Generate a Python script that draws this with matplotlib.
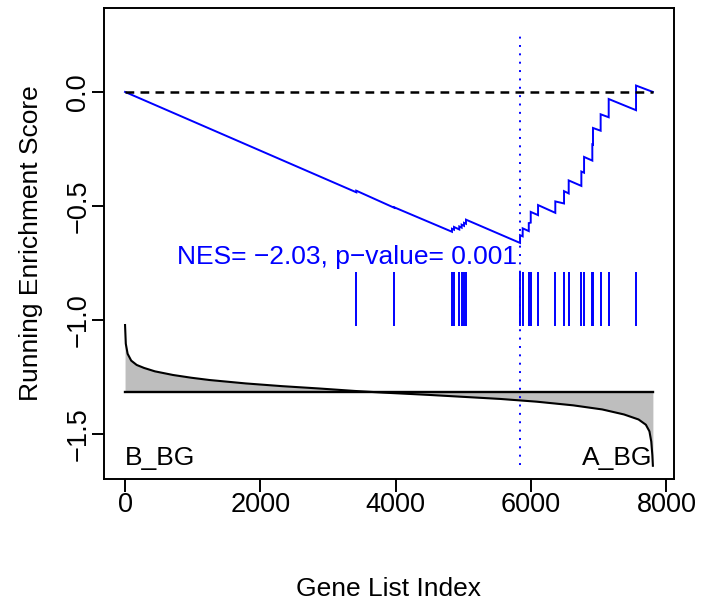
import matplotlib
matplotlib.use("Agg")
import matplotlib.pyplot as plt
import numpy as np

plt.rcParams['font.family'] = ['Liberation Sans', 'DejaVu Sans']

# ---- data ----
n_genes = 7800
hit_idx = [3417, 3979, 4831, 4861, 4939, 4974, 5009, 5038,
           5837, 5876, 5966, 5995, 6103, 6358, 6487, 6556,
           6743, 6783, 6905, 6915, 7028, 7147, 7551]
es_before = [-0.440, -0.508, -0.613, -0.604, -0.603, -0.595, -0.587, -0.578,
             -0.662, -0.633, -0.610, -0.573, -0.540, -0.530, -0.489, -0.445,
             -0.412, -0.354, -0.301, -0.231, -0.170, -0.111, -0.080]
es_after = [-0.433, -0.506, -0.600, -0.592, -0.590, -0.582, -0.574, -0.560,
            -0.628, -0.598, -0.575, -0.526, -0.496, -0.480, -0.435, -0.388,
            -0.349, -0.285, -0.230, -0.158, -0.098, -0.031, 0.028]

# ranked metric curve (drawn in ES-axis units)
metric_x = [0, 11, 38, 91, 172, 280, 441, 709, 978, 1247, 1784, 2322, 2859,
            3396, 3800, 4471, 5009, 5546, 6083, 6621, 7051, 7373, 7588, 7696,
            7749, 7776, 7792, 7800]
metric_y = [-1.022, -1.104, -1.148, -1.178, -1.197, -1.210, -1.225, -1.241,
            -1.253, -1.263, -1.278, -1.290, -1.300, -1.311, -1.318, -1.328,
            -1.337, -1.346, -1.358, -1.374, -1.392, -1.414, -1.436, -1.459,
            -1.488, -1.533, -1.592, -1.639]
metric_zero = -1.317
min_idx = 5837
nes_text = "NES= \u22122.03, p\u2212value= 0.001"
label_left = "B_BG"
label_right = "A_BG"
x_ticks = [0, 2000, 4000, 6000, 8000]
y_ticks = [0.0, -0.5, -1.0, -1.5]

# ---- figure ----
fig = plt.figure(figsize=(7.11, 6.09), dpi=100)
ax = fig.add_axes([104/711, (609-479)/609, 570/711, 471/609])
ax.set_xlim(-311, 8112)
ax.set_ylim(-1.697, 0.368)

blue = '#0000FF'

# ES curve
es_x = [0]
es_y = [0.0]
for h, b, a in zip(hit_idx, es_before, es_after):
    es_x += [h, h]
    es_y += [b, a]
es_x.append(n_genes)
es_y.append(0.0)
ax.plot(es_x, es_y, color=blue, lw=1.4, solid_joinstyle='miter')

# zero line
ax.plot([0, n_genes], [0, 0], color='black', lw=1.8, linestyle=(0, (3.5, 2.5)))

# hits
ax.vlines(hit_idx, -1.026, -0.788, color=blue, lw=1.4)

# metric
mx = np.array(metric_x, float)
my = np.array(metric_y, float)
ax.fill_between(mx, my, metric_zero, color='#BEBEBE', lw=0)
ax.plot(mx, my, color='black', lw=1.5)
ax.plot([0, n_genes], [metric_zero, metric_zero], color='black', lw=1.7)

# min line
ax.plot([min_idx, min_idx], [-1.637, 0.262], color=blue, lw=1.4,
        linestyle=(0, (1, 3.3)))

ax.text(5796, -0.723, nes_text, color=blue, fontsize=19, ha='right', va='center')
ax.text(0, -1.636, label_left, fontsize=19, ha='left', va='baseline')
ax.text(n_genes, -1.636, label_right, fontsize=19, ha='right', va='baseline')

ax.set_xticks(x_ticks)
ax.set_xticklabels([str(v) for v in x_ticks])
ax.set_yticks(y_ticks)
ax.set_yticklabels(['%.1f' % v if v == 0 else ('\u2212%.1f' % abs(v)) for v in y_ticks],
                   rotation=90, va='center')
ax.tick_params(axis='both', direction='out', length=9, width=1.4,
               labelsize=19.5, pad=0)
for s in ax.spines.values():
    s.set_linewidth(1.4)

ax.set_xlabel("Gene List Index", fontsize=19, labelpad=43)
ax.set_ylabel("Running Enrichment Score", fontsize=19, labelpad=16)

fig.savefig("out.png", dpi=100)
